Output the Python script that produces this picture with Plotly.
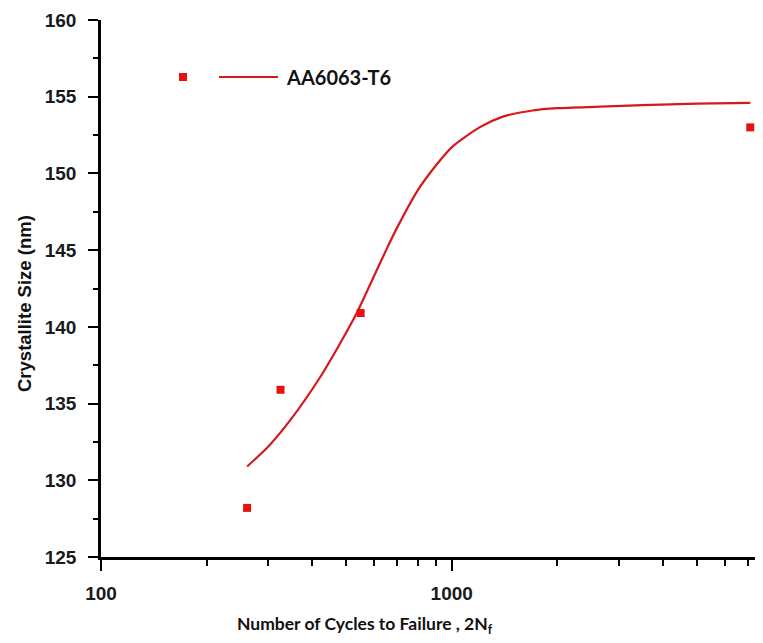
import plotly.graph_objects as go

# ---- data ----
cycles = [261, 325, 550, 7100]
crystallite = [128.2, 135.9, 140.9, 153.0]

fit_cycles = [261, 300, 346, 421, 480, 536, 592, 650, 700, 800, 900, 1000,
              1200, 1400, 1700, 2000, 2650, 3500, 5000, 7100]
fit_size = [130.9, 132.2, 133.9, 136.7, 138.9, 140.9, 143.0, 145.0, 146.5,
            148.9, 150.5, 151.7, 153.0, 153.7, 154.1, 154.25, 154.35, 154.45,
            154.55, 154.6]

x_major_ticks = [100, 1000]
x_minor_ticks = [200, 300, 400, 500, 600, 700, 800, 900,
                 2000, 3000, 4000, 5000, 6000, 7000]
y_major_ticks = [125, 130, 135, 140, 145, 150, 155, 160]
y_minor_ticks = [127.5, 132.5, 137.5, 142.5, 147.5, 152.5, 157.5]

series_name = "AA6063-T6"

# ---- layout geometry (pixels, page coordinates; the page body has an 8px margin) ----
BODY = 8
W, H = 763, 643
L, T, B = 101, 20, 86          # plot area: x 101..763, y 20..557 on the page
FW, FH = W - BODY, H - BODY
ML, MT = L - BODY, T - BODY
PW, PH = W - L, (H - B) - T


def px(xp):
    return (xp - L) / PW


def py(yp):
    return (H - B - yp) / PH


RED = "#e81010"
LINE_RED = "#d81818"
TICK_FONT = dict(family="Liberation Sans, Arial, sans-serif", size=19,
                 color="#1a1a1a", weight="bold")

fig = go.Figure()
fig.add_trace(go.Scatter(
    x=fit_cycles, y=fit_size, mode="lines",
    line=dict(color=LINE_RED, width=2.2, shape="spline", smoothing=0.7),
    showlegend=False, hoverinfo="skip"))
fig.add_trace(go.Scatter(
    x=cycles, y=crystallite, mode="markers",
    marker=dict(symbol="square", size=8, color=RED, line=dict(width=0)),
    showlegend=False, name=series_name))

fig.update_layout(
    width=FW, height=FH,
    margin=dict(l=ML, r=0, t=MT, b=B, pad=0),
    paper_bgcolor="white", plot_bgcolor="white",
    showlegend=False,
    xaxis=dict(
        type="log", range=[2, 3.8876],
        showgrid=False, zeroline=False,
        showline=True, linecolor="black", linewidth=2.5,
        tickmode="array", tickvals=x_major_ticks,
        ticktext=[str(v) for v in x_major_ticks],
        ticks="outside", ticklen=11, tickwidth=2.2, tickcolor="black",
        tickfont=TICK_FONT, ticklabelstandoff=6,
        minor=dict(tickmode="array", tickvals=x_minor_ticks, ticks="outside",
                   ticklen=6, tickwidth=2, tickcolor="black", showgrid=False),
    ),
    yaxis=dict(
        range=[125, 160],
        showgrid=False, zeroline=False,
        showline=True, linecolor="black", linewidth=2.5,
        tickmode="array", tickvals=y_major_ticks,
        ticks="outside", ticklen=10, tickwidth=2.2, tickcolor="black",
        tickfont=TICK_FONT, ticklabelstandoff=8,
        minor=dict(tickmode="array", tickvals=y_minor_ticks, ticks="outside",
                   ticklen=5, tickwidth=2, tickcolor="black", showgrid=False),
    ),
)

# axis titles
fig.add_annotation(
    x=px(365), y=py(625), xref="paper", yref="paper",
    text="<b>Number of Cycles to Failure , 2N<sub>f</sub></b>",
    showarrow=False, xanchor="center", yanchor="middle",
    font=dict(family="Lato, sans-serif", size=17.5, color="#111111"))
fig.add_annotation(
    x=px(24), y=py(304), xref="paper", yref="paper",
    text="<b>Crystallite Size (nm)</b>", textangle=-90,
    showarrow=False, xanchor="center", yanchor="middle",
    font=dict(family="Liberation Sans, Arial, sans-serif", size=18.5, color="#111111"))

# legend (Origin-style: symbol, line, label)
fig.add_shape(type="rect", xref="paper", yref="paper",
              xsizemode="pixel", ysizemode="pixel",
              xanchor=px(183), yanchor=py(77), x0=-4, x1=4, y0=-4, y1=4,
              fillcolor=RED, line=dict(width=0))
fig.add_shape(type="line", xref="paper", yref="paper",
              x0=px(219), x1=px(278), y0=py(77), y1=py(77),
              line=dict(color=LINE_RED, width=2.2))
fig.add_annotation(
    x=px(284), y=py(77), xref="paper", yref="paper",
    text="<b>" + series_name + "</b>", showarrow=False,
    xanchor="left", yanchor="middle",
    font=dict(family="Lato, sans-serif", size=20, color="#111111"))

fig.write_html("out.html")
